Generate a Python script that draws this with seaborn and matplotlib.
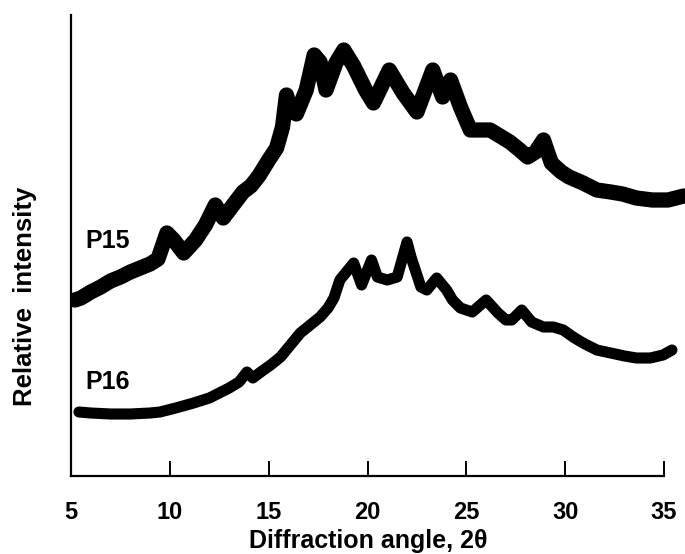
import matplotlib
matplotlib.use("Agg")
import matplotlib.pyplot as plt
import seaborn as sns
import pandas as pd

# ---- data (2theta, relative intensity in arbitrary units) ----
p15_angle = [5.2, 5.5, 6.0, 6.5, 7.0, 7.5, 8.0, 8.5, 9.0, 9.4, 9.85, 10.2, 10.7, 11.3,
             11.8, 12.3, 12.7, 13.2, 13.7, 14.1, 14.5, 15.0, 15.4, 15.7, 15.9, 16.1,
             16.4, 16.9, 17.3, 17.6, 17.9, 18.4, 18.8, 19.3, 19.9, 20.3, 21.1, 21.8,
             22.5, 23.3, 23.8, 24.2, 24.7, 25.2, 25.7, 26.2, 26.7, 27.2, 27.7, 28.1,
             28.5, 28.9, 29.3, 29.8, 30.2, 30.9, 31.6, 32.3, 32.9, 33.6, 34.4, 35.2, 36.0]
p15_int = [176, 178, 184, 189, 195, 199, 204, 208, 212, 217, 243, 236, 223, 236,
           251, 271, 258, 271, 284, 290, 300, 316, 328, 349, 381, 366,
           362, 386, 421, 414, 386, 413, 426, 410, 386, 373, 406, 383,
           364, 406, 379, 396, 369, 346, 346, 346, 340, 334, 326, 319,
           324, 336, 313, 304, 299, 293, 286, 284, 282, 278, 276, 276, 280]

p16_angle = [5.4, 6.0, 7.0, 8.0, 9.0, 9.5, 10.3, 11.2, 12.0, 12.5, 13.0, 13.5, 13.9,
             14.2, 14.6, 15.1, 15.6, 16.1, 16.6, 17.1, 17.6, 18.0, 18.3, 18.6, 19.3,
             19.7, 20.2, 20.5, 21.0, 21.5, 22.0, 22.2, 22.7, 23.0, 23.5, 24.0, 24.3,
             24.7, 25.3, 26.0, 26.6, 27.0, 27.3, 27.8, 28.3, 28.9, 29.4, 29.9, 30.4,
             30.9, 31.6, 32.3, 33.0, 33.6, 34.3, 34.95, 35.4]
p16_int = [64, 63, 62, 62, 63, 64, 68, 73, 78, 83, 88, 94, 104,
           98, 104, 111, 119, 131, 143, 151, 159, 168, 178, 196, 213,
           191, 216, 199, 196, 199, 234, 219, 189, 186, 198, 186, 176,
           168, 164, 176, 163, 156, 156, 166, 154, 149, 149, 146, 139,
           133, 126, 123, 120, 118, 118, 121, 126]

x_ticks = [5, 10, 15, 20, 25, 30, 35]
series_labels = ["P15", "P16"]

df15 = pd.DataFrame({"angle": p15_angle, "intensity": p15_int})
df16 = pd.DataFrame({"angle": p16_angle, "intensity": p16_int})

sns.set_theme(style="white")
plt.rcParams["font.family"] = ["Liberation Sans", "DejaVu Sans"]
plt.rcParams["font.weight"] = "bold"
plt.rcParams["text.color"] = "black"
plt.rcParams["xtick.color"] = "black"
plt.rcParams["axes.labelcolor"] = "black"

fig = plt.figure(figsize=(6.85, 5.54), dpi=100)
ax = fig.add_axes([71 / 685, 78 / 554, 614 / 685, 461 / 554])

sns.lineplot(data=df15, x="angle", y="intensity", ax=ax, color="black",
             linewidth=11, solid_capstyle="round", solid_joinstyle="round")
sns.lineplot(data=df16, x="angle", y="intensity", ax=ax, color="black",
             linewidth=8, solid_capstyle="round", solid_joinstyle="round")

ax.set_xlim(5, 36.06)
ax.set_ylim(0, 461)
ax.spines["top"].set_visible(False)
ax.spines["right"].set_visible(False)
for s in ("left", "bottom"):
    ax.spines[s].set_color("black")
    ax.spines[s].set_linewidth(1.6)
ax.spines["bottom"].set_bounds(5, 35)

ax.set_xticks(x_ticks)
ax.set_xticklabels([str(t) for t in x_ticks], fontsize=17, fontweight="bold",
                   color="black")
ax.tick_params(axis="x", direction="in", length=11, width=1.4, pad=18,
               colors="black", bottom=True)
ax.set_yticks([])
ax.set_xlabel("")
ax.set_ylabel("")

ax.text(5.72, 476 - 241, series_labels[0], fontsize=18, fontweight="bold",
        ha="left", va="center", color="black")
ax.text(5.72, 476 - 382, series_labels[1], fontsize=18, fontweight="bold",
        ha="left", va="center", color="black")

fig.text(368 / 685, 1 - 541 / 554, "Diffraction angle, 2θ", fontsize=18,
         fontweight="bold", ha="center", va="center", color="black")
fig.text(25 / 685, 1 - 296 / 554, "Relative  intensity", fontsize=18.5,
         fontweight="bold", ha="center", va="center", rotation=90, color="black")

fig.savefig("out.png", dpi=100)
